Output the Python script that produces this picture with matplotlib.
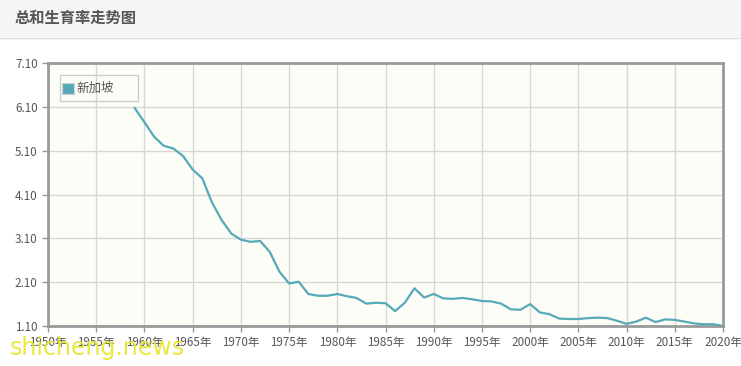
import matplotlib
matplotlib.use("Agg")
import matplotlib.pyplot as plt
from matplotlib.patches import Rectangle
from matplotlib.lines import Line2D

plt.rcParams['font.family'] = ['Noto Sans CJK SC', 'DejaVu Sans']

title = "总和生育率走势图"
series_name = "新加坡"
years = list(range(1959, 2021))
tfr = [6.07, 5.75, 5.42, 5.21, 5.15, 4.98, 4.67, 4.47, 3.92, 3.52,
       3.21, 3.07, 3.02, 3.04, 2.79, 2.34, 2.07, 2.11, 1.83, 1.79,
       1.79, 1.83, 1.78, 1.74, 1.61, 1.63, 1.62, 1.44, 1.63, 1.96,
       1.75, 1.83, 1.73, 1.72, 1.74, 1.71, 1.67, 1.66, 1.61, 1.48,
       1.47, 1.60, 1.41, 1.37, 1.27, 1.26, 1.26, 1.28, 1.29, 1.28,
       1.22, 1.15, 1.20, 1.29, 1.19, 1.25, 1.24, 1.20, 1.16, 1.14,
       1.14, 1.10]
xticks = list(range(1950, 2021, 5))
xtick_labels = [f"{y}年" for y in xticks]
yticks = [1.10, 2.10, 3.10, 4.10, 5.10, 6.10, 7.10]
ytick_labels = [f"{v:.2f}" for v in yticks]

W, H = 741, 366
fig = plt.figure(figsize=(W / 100, H / 100), dpi=100)
fig.patch.set_facecolor('white')

# header band
fig.patches.append(Rectangle((0, 1 - 37 / H), 1, 37 / H, transform=fig.transFigure,
                             facecolor='#f5f5f5', edgecolor='none', zorder=0))
fig.lines.append(Line2D([0, 1], [1 - 37.5 / H] * 2, transform=fig.transFigure,
                        color='#dddddd', lw=1))
fig.text(15 / W, 1 - 18 / H, title, fontsize=11, fontweight='bold',
         color='#555555', va='center', ha='left')

ax = fig.add_axes([48 / W, 1 - 326 / H, (723 - 48) / W, (326 - 63) / H])
ax.set_facecolor('#fdfdf8')
line_color = '#56aab7'
ax.plot(years, tfr, color=line_color, lw=1.6, zorder=3)

ax.set_xlim(1950, 2020)
ax.set_ylim(1.10, 7.10)
ax.set_xticks(xticks)
ax.set_xticklabels(xtick_labels)
ax.set_yticks(yticks)
ax.set_yticklabels(ytick_labels)
ax.grid(True, color='#d6d6d6', lw=1)
ax.set_axisbelow(True)
ax.tick_params(axis='both', colors='#999999', labelcolor='#555555', labelsize=8.4,
               length=4, width=1)
for s in ax.spines.values():
    s.set_color('#9a9a9a')
    s.set_linewidth(2)

# legend
ax.add_patch(Rectangle((60 / W, 1 - 101 / H), 78 / W, 26 / H, transform=fig.transFigure,
                       facecolor='none', edgecolor='#cccccc', lw=1, clip_on=False, zorder=4))
fig.patches.append(Rectangle((62 / W, 1 - 94 / H), 12 / W, 11 / H, transform=fig.transFigure,
                             facecolor=line_color, edgecolor='#d0d0d0', lw=0.8, zorder=5))
fig.text(76 / W, 1 - 88 / H, series_name, fontsize=9, color='#555555',
         va='center', ha='left', zorder=5)

# watermark
fig.text(10 / W, 1 - 348 / H, "shicheng.news", fontsize=17, color='#e6e62a',
         alpha=0.9, va='center', ha='left', family=['DejaVu Sans'])

fig.savefig("out.png", dpi=100)
